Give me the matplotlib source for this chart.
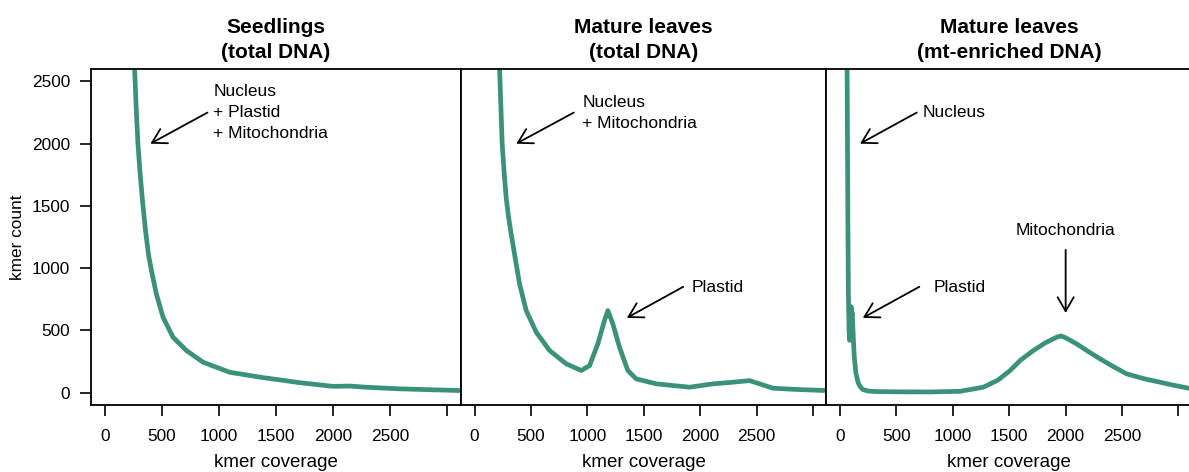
import matplotlib.pyplot as plt

plt.rcParams['font.family'] = ['Liberation Sans', 'DejaVu Sans']

# k-mer spectra (coverage, count)
seed_cov = [240, 262, 275, 291, 310, 335, 360, 385, 409, 452, 511, 598, 715, 861, 976, 1095,
            1250, 1386, 1550, 1700, 1850, 1996, 2150, 2300, 2579, 2800, 3120]
seed_cnt = [3000, 2600, 2300, 2000, 1760, 1500, 1280, 1100, 981, 793, 605, 445, 338, 244, 204,
            163, 140, 120, 100, 80, 65, 50, 52, 42, 30, 24, 16]

leaf_cov = [205, 222, 245, 263, 281, 300, 320, 355, 399, 458, 547, 665, 813, 946, 1020, 1093,
            1152, 1182, 1226, 1285, 1359, 1433, 1611, 1906, 2113, 2250, 2438, 2527, 2645,
            2850, 3120]
leaf_cnt = [3000, 2600, 2000, 1760, 1560, 1420, 1300, 1110, 874, 659, 485, 338, 231, 177, 217,
            391, 579, 659, 552, 364, 177, 110, 70, 43, 70, 80, 96, 70, 35, 25, 16]

mt_cov = [58, 62, 66, 70, 74, 80, 85, 92, 98, 103, 108, 115, 125, 140, 160, 177, 200,
          250, 325, 500, 800, 1064, 1270, 1400, 1507, 1600, 1714, 1820, 1921, 1960, 2000,
          2098, 2200, 2305, 2420, 2541, 2700, 2837, 2950, 3120]
mt_cnt = [3000, 2700, 2000, 1300, 800, 500, 420, 560, 690, 610, 640, 500, 300, 160, 80, 50, 25,
          12, 8, 6, 5, 10, 43, 100, 177, 260, 338, 400, 445, 455, 440,
          391, 330, 271, 210, 150, 110, 83, 60, 30]

titles = ['Seedlings\n(total DNA)', 'Mature leaves\n(total DNA)', 'Mature leaves\n(mt-enriched DNA)']
xticks = [0, 500, 1000, 1500, 2000, 2500, 3000]
xtick_labels = ['0', '500', '1000', '1500', '2000', '2500', '']
yticks = [0, 500, 1000, 1500, 2000, 2500]

# annotations: (text, text_xy, arrow_start, arrow_tip, ha)
notes = [
    [('Nucleus\n+ Plastid\n+ Mitochondria', (950, 2250), (900, 2250), (400, 2000), 'left')],
    [('Nucleus\n+ Mitochondria', (955, 2250), (880, 2250), (370, 2000), 'left'),
     ('Plastid', (1926, 845), (1850, 850), (1350, 600), 'left')],
    [('Nucleus', (730, 2250), (680, 2250), (177, 2000), 'left'),
     ('Plastid', (830, 845), (703, 850), (202, 600), 'left'),
     ('Mitochondria', (2000, 1300), (2000, 1147), (2000, 640), 'center')],
]

color = '#3c917b'
W, H = 1189, 472
fig = plt.figure(figsize=(W / 100, H / 100), dpi=100)

lefts = [91, 461, 826.5]
widths = [370, 365.5, 365.5]
box_top, box_bot = 69, 405
data = [(seed_cov, seed_cnt), (leaf_cov, leaf_cnt), (mt_cov, mt_cnt)]

for i in range(3):
    ax = fig.add_axes([lefts[i] / W, 1 - box_bot / H, widths[i] / W, (box_bot - box_top) / H])
    x, y = data[i]
    ax.plot(x, y, color=color, lw=3.4, solid_joinstyle='round')
    ax.set_xlim(-120, 3120)
    ax.set_ylim(-100, 2600)
    for s in ax.spines.values():
        s.set_linewidth(1.3)
    ax.set_xticks(xticks)
    ax.set_xticklabels(xtick_labels)
    ax.tick_params(axis='x', length=8, width=1.2, pad=9, labelsize=12.4, colors='black')
    if i == 0:
        ax.set_yticks(yticks)
        ax.tick_params(axis='y', length=8, width=1.2, pad=7, labelsize=12.4)
    else:
        ax.set_yticks([])
    ax.set_title(titles[i], fontsize=15, fontweight='bold', pad=8, linespacing=1.37)
    for txt, txy, start, tip, ha in notes[i]:
        ax.annotate('', xy=tip, xytext=start,
                    arrowprops=dict(arrowstyle='->,head_length=1.0,head_width=0.58',
                                    lw=1.3, color='black', shrinkA=0, shrinkB=0,
                                    mutation_scale=10))
        ax.text(txy[0], txy[1], txt, ha=ha, va='center', fontsize=12.5, linespacing=1.5)
    cx = (lefts[i] + widths[i] / 2) / W
    fig.text(cx, 1 - 467 / H, 'kmer coverage', ha='center', va='baseline', fontsize=13.5)

fig.text(18 / W, 1 - 237 / H, 'kmer count', rotation=90, ha='center', va='center', fontsize=12.4)

fig.savefig('out.png', dpi=100)
